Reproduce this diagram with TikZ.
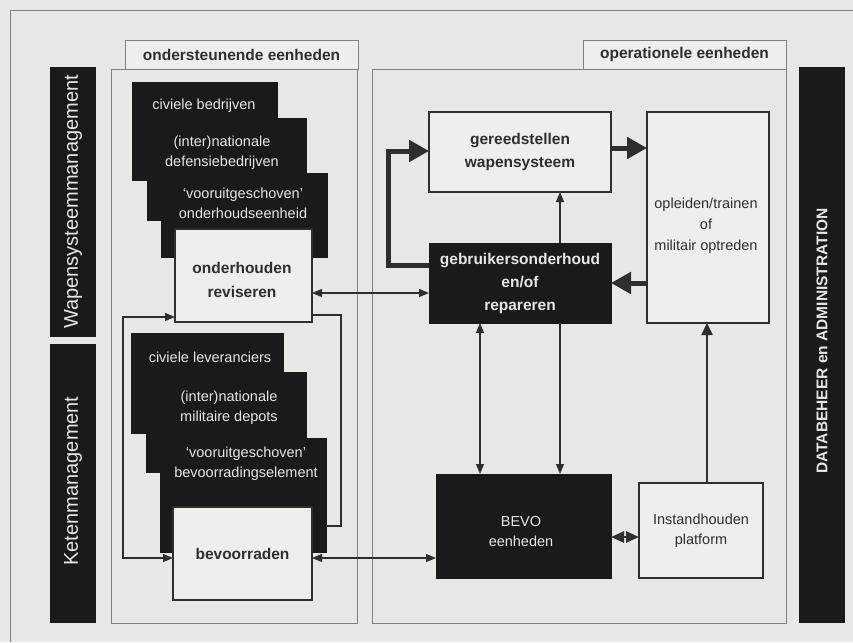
\documentclass[tikz,border=0pt]{standalone}
\usepackage{fontspec}
\setmainfont{Liberation Sans}
\usetikzlibrary{arrows.meta,shapes.misc}
\definecolor{bg}{HTML}{E7E7E4}
\definecolor{boxfill}{HTML}{EEEEEB}
\definecolor{ink}{HTML}{1A1A1A}
\definecolor{edge}{HTML}{2E2E2E}
\definecolor{framec}{HTML}{808080}
\definecolor{wtext}{HTML}{E6E6E6}
\begin{document}
\begin{tikzpicture}[x=1pt,y=-1pt,
  every node/.style={inner sep=0pt,outer sep=0pt},
  >={Triangle[length=10pt,width=8pt]},
  frm/.style={draw=framec,line width=0.9pt},
  tabbox/.style={frm,fill=boxfill,text=edge,font=\fontsize{15.5}{18}\selectfont\bfseries},
  wbox/.style={draw=edge,line width=1.6pt,fill=boxfill,text=edge,align=center,font=\fontsize{15.5}{23}\selectfont\bfseries},
  bbox/.style={fill=ink,draw=ink,line width=0.5pt,chamfered rectangle,
     chamfered rectangle corners={north west,north east},
     chamfered rectangle xsep=5pt,chamfered rectangle ysep=5pt},
  rbox/.style={fill=ink,draw=ink,line width=0.5pt,text=wtext,align=center,font=\fontsize{15.5}{23}\selectfont\bfseries},
  btext/.style={text=wtext,align=center,font=\fontsize{14.5}{20}\selectfont},
  dtext/.style={text=edge,align=center,font=\fontsize{14.5}{21}\selectfont},
  bar/.style={fill=ink,draw=none},
  bartext/.style={text=wtext,rotate=90},
  thickarrow/.style={draw=edge,line width=5pt,-{Triangle[length=20pt,width=21pt]}},
  thinline/.style={draw=edge,line width=1.1pt},
  midarrow/.style={draw=edge,line width=2.4pt,-{Triangle[length=12pt,width=11pt]}},
  smalldbl/.style={draw=edge,line width=2.5pt,{Triangle[length=13pt,width=11pt]}-{Triangle[length=13pt,width=11pt]}}
]
\path[fill=bg,use as bounding box] (0,0) rectangle (853,642);

% outer frame (cropped)
\draw[frm] (10,642) -- (10,10) -- (853,10);

% side bars
\node[bar,minimum width=46pt,minimum height=270pt] (wapbar) at (73,202) {};
\node[bartext,font=\fontsize{20}{24}\selectfont] (waptext) at (73,202) {Wapensysteemmanagement};
\node[bar,minimum width=46pt,minimum height=279pt] (ketbar) at (73,483.5) {};
\node[bartext,font=\fontsize{20}{24}\selectfont] (kettext) at (73,481) {Ketenmanagement};
\node[bar,minimum width=46pt,minimum height=556pt] (databar) at (822,345) {};
\node[bartext,font=\fontsize{15.5}{18}\selectfont\bfseries] (datatext) at (822,341) {DATABEHEER en ADMINISTRATION};

% group frames
\node[frm,minimum width=246pt,minimum height=554pt] (leftframe) at (234,346) {};
\node[tabbox,minimum width=233pt,minimum height=29pt] (lefttab) at (241.5,54.5) {ondersteunende eenheden};
\node[frm,minimum width=414pt,minimum height=554pt] (rightframe) at (579,346) {};
\node[tabbox,minimum width=203pt,minimum height=29pt] (righttab) at (684.5,54.5) {operationele eenheden};

% upper stack
\node[bbox,minimum width=145pt,minimum height=98pt] (boxA) at (204.5,131) {};
\node[btext] (txtA) at (204,106) {civiele bedrijven};
\node[bbox,minimum width=159pt,minimum height=102pt] (boxB) at (226.5,169) {};
\node[btext] (txtB) at (222,153) {(inter)nationale\\defensiebedrijven};
\node[bbox,minimum width=166pt,minimum height=84pt] (boxC) at (244,215) {};
\node[btext] (txtC) at (243,203) {‘vooruitgeschoven’\\onderhoudseenheid};
\node[wbox,minimum width=137pt,minimum height=93pt] (boxD) at (243.5,275.5) {};
\node[text=edge,align=center,font=\fontsize{15.5}{24}\selectfont\bfseries] (txtD) at (242,280) {onderhouden\\reviseren};

% lower stack
\node[bbox,minimum width=152pt,minimum height=100pt] (boxE) at (207,383) {};
\node[btext] (txtE) at (210,357) {civiele leveranciers};
\node[bbox,minimum width=160pt,minimum height=100pt] (boxF) at (226,422) {};
\node[btext] (txtF) at (229,407.5) {(inter)nationale\\militaire depots};
\node[bbox,minimum width=166pt,minimum height=114pt] (boxG) at (243,495) {};
\node[btext] (txtG) at (246,464) {‘vooruitgeschoven’\\bevoorradingselement};
\node[wbox,minimum width=139pt,minimum height=93pt] (boxH) at (242.5,553.5) {bevoorraden};

% right side boxes
\node[wbox,minimum width=182pt,minimum height=80pt] (gereed) at (520,152) {gereedstellen\\wapensysteem};
\node[wbox,minimum width=122pt,minimum height=211pt] (opleiden) at (708,217.5) {};
\node[dtext] (opltext) at (706,226) {opleiden/trainen\\of\\militair optreden};
\node[rbox,minimum width=182pt,minimum height=80pt] (gebruik) at (520,283) {gebruikersonderhoud\\en/of\\repareren};
\node[bbox,minimum width=175pt,minimum height=104pt] (bevo) at (523.5,526) {};
\node[btext] (bevotext) at (521,532) {BEVO\\eenheden};
\node[wbox,minimum width=124pt,minimum height=95pt,font=\fontsize{14.5}{20}\selectfont] (instand) at (701,530.5) {Instandhouden\\platform};

% thick arrows
\draw[thickarrow] ([yshift=18pt]gebruik.west) -| ([xshift=-41pt,yshift=1pt]gereed.west) -- ([yshift=1pt]gereed.west);
\draw[thickarrow] ([yshift=4pt]gereed.east) -- ([yshift=4pt]gereed.east -| opleiden.west);
\draw[thickarrow] (opleiden.west |- gebruik.east) -- (gebruik.east);

% thin arrows in operational part
\draw[thinline,->] ([xshift=40pt]gebruik.north) -- ([xshift=40pt]gereed.south);
\draw[thinline,<->] ([xshift=-40pt]gebruik.south) -- ([xshift=-40pt]gebruik.south |- bevo.north);
\draw[thinline,->] ([xshift=40pt]gebruik.south) -- ([xshift=40pt]gebruik.south |- bevo.north);
\draw[midarrow] ([xshift=6pt]instand.north) -- ([xshift=6pt]instand.north |- opleiden.south);
\draw[smalldbl] ([yshift=-11pt]bevo.east) -- ([yshift=-11pt]bevo.east -| instand.west);

% links between the two groups
\draw[thinline,<->] ([yshift=-17.5pt]boxD.east) -- ([yshift=-17.5pt]boxD.east -| gebruik.west);
\draw[thinline,<->] ([yshift=-4.5pt]boxH.east) -- ([yshift=-4.5pt]boxH.east -| bevo.west);

% loops in supporting part
\coordinate (loopR) at (341,526);
\coordinate (loopL) at (123,558);
\draw[thinline] ([yshift=-39.5pt]boxD.east) -| (loopR) -- ([yshift=-31pt]boxG.east);
\draw[thinline,<->] ([yshift=-41.5pt]boxD.west) -| (loopL) -- ([yshift=-4.5pt]boxH.west);
\end{tikzpicture}
\end{document}
